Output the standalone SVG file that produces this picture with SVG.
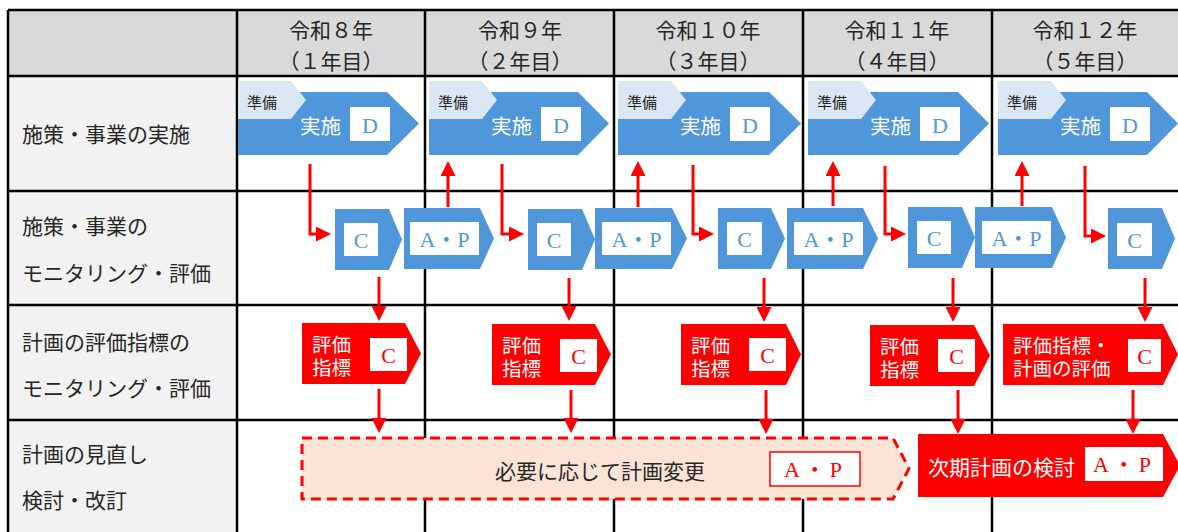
<svg xmlns="http://www.w3.org/2000/svg" width="1178" height="532" viewBox="0 0 1178 532">
<style>
.jp{font-family:"Noto Sans CJK JP","Liberation Sans",sans-serif;font-size:21px;fill:#262626}
.lat{font-family:"Liberation Serif","Noto Sans CJK JP",serif;font-size:22px}
.blue{fill:#5096DA}
.lightblue{fill:#DAE8F5}
.red{fill:#FF0000}
.wbox{fill:#FFFFFF}
.wt{fill:#FFFFFF}
.bt{fill:#5096DA}
.rt{fill:#FF0000}
.two{font-size:19.5px}
.grid{stroke:#000;stroke-width:2.5;fill:none}
.arr{stroke:#FF0000;stroke-width:3;fill:none;stroke-linejoin:miter}
</style>
<defs>
<marker id="ah" markerUnits="userSpaceOnUse" markerWidth="15" markerHeight="15" refX="5" refY="7.5" orient="auto">
<path d="M0,0 L15,7.5 L0,15 Z" fill="#FF0000"/>
</marker>
</defs>
<g id="table">
<rect x="8" y="10" width="1172" height="66" fill="#D9D9D9"/>
<rect x="8" y="76" width="229" height="460" fill="#F2F2F2"/>
<rect x="237" y="76" width="943" height="460" fill="#FFFFFF"/>
<path class="grid" d="M8,10 H1180 M8,76 H1180 M8,191 H1180 M8,305 H1180 M8,420 H1180 M8,10 V536 M237,10 V536 M425,10 V536 M614,10 V536 M803,10 V536 M992,10 V536"/>
</g>
<g id="headers" class="jp" text-anchor="middle" dominant-baseline="central">
<text x="331" y="29">令和８年</text><text x="331" y="60">（１年目）</text>
<text x="520" y="29">令和９年</text><text x="520" y="60">（２年目）</text>
<text x="708" y="29">令和１０年</text><text x="708" y="60">（３年目）</text>
<text x="897" y="29">令和１１年</text><text x="897" y="60">（４年目）</text>
<text x="1085" y="29">令和１２年</text><text x="1085" y="60">（５年目）</text>
</g>
<g id="row-labels" class="jp" dominant-baseline="central">
<text x="22" y="133">施策・事業の実施</text>
<text x="22" y="225">施策・事業の</text>
<text x="22" y="272">モニタリング・評価</text>
<text x="22" y="341">計画の評価指標の</text>
<text x="22" y="387">モニタリング・評価</text>
<text x="22" y="453">計画の見直し</text>
<text x="22" y="499">検討・改訂</text>
</g>
<g id="do-1" transform="translate(238,0)">
<polygon class="blue" points="0,92 149,92 181,123.5 149,155 0,155"/>
<polygon class="lightblue" points="0,81 53,81 68,100 53,119 0,119"/>
<text class="jp" x="9" y="101" style="font-size:15px" dominant-baseline="central">準備</text>
<text class="jp wt" x="62" y="125" style="font-size:20.5px" dominant-baseline="central">実施</text>
<rect class="wbox" x="112" y="107" width="40" height="34"/>
<text class="lat bt" x="132" y="125" text-anchor="middle" dominant-baseline="central">D</text>
</g>
<g id="do-2" transform="translate(429,0)">
<polygon class="blue" points="0,92 149,92 180,123.5 149,155 0,155"/>
<polygon class="lightblue" points="0,81 53,81 68,100 53,119 0,119"/>
<text class="jp" x="9" y="101" style="font-size:15px" dominant-baseline="central">準備</text>
<text class="jp wt" x="62" y="125" style="font-size:20.5px" dominant-baseline="central">実施</text>
<rect class="wbox" x="112" y="107" width="40" height="34"/>
<text class="lat bt" x="132" y="125" text-anchor="middle" dominant-baseline="central">D</text>
</g>
<g id="do-3" transform="translate(618,0)">
<polygon class="blue" points="0,92 151,92 183,123.5 151,155 0,155"/>
<polygon class="lightblue" points="0,81 53,81 68,100 53,119 0,119"/>
<text class="jp" x="9" y="101" style="font-size:15px" dominant-baseline="central">準備</text>
<text class="jp wt" x="62" y="125" style="font-size:20.5px" dominant-baseline="central">実施</text>
<rect class="wbox" x="112" y="107" width="40" height="34"/>
<text class="lat bt" x="132" y="125" text-anchor="middle" dominant-baseline="central">D</text>
</g>
<g id="do-4" transform="translate(808,0)">
<polygon class="blue" points="0,92 150,92 181,123.5 150,155 0,155"/>
<polygon class="lightblue" points="0,81 53,81 68,100 53,119 0,119"/>
<text class="jp" x="9" y="101" style="font-size:15px" dominant-baseline="central">準備</text>
<text class="jp wt" x="62" y="125" style="font-size:20.5px" dominant-baseline="central">実施</text>
<rect class="wbox" x="112" y="107" width="40" height="34"/>
<text class="lat bt" x="132" y="125" text-anchor="middle" dominant-baseline="central">D</text>
</g>
<g id="do-5" transform="translate(998,0)">
<polygon class="blue" points="0,92 149,92 180,123.5 149,155 0,155"/>
<polygon class="lightblue" points="0,81 53,81 68,100 53,119 0,119"/>
<text class="jp" x="9" y="101" style="font-size:15px" dominant-baseline="central">準備</text>
<text class="jp wt" x="62" y="125" style="font-size:20.5px" dominant-baseline="central">実施</text>
<rect class="wbox" x="112" y="107" width="40" height="34"/>
<text class="lat bt" x="132" y="125" text-anchor="middle" dominant-baseline="central">D</text>
</g>
<g id="check-1" transform="translate(335,209)">
<polygon class="blue" points="0,0 54,0 67,30.5 54,61 0,61"/>
<rect class="wbox" x="9" y="14" width="34" height="33"/>
<text class="lat bt" x="26" y="31" text-anchor="middle" dominant-baseline="central">C</text>
</g>
<g id="ap-1" transform="translate(404,208)">
<polygon class="blue" points="0,0 76,0 90,30.5 76,61 0,61"/>
<rect class="wbox" x="6" y="14" width="69" height="33"/>
<text class="lat bt" x="40.5" y="31" text-anchor="middle" dominant-baseline="central">A・P</text>
</g>
<g id="check-2" transform="translate(528,209)">
<polygon class="blue" points="0,0 54,0 67,30.5 54,61 0,61"/>
<rect class="wbox" x="9" y="14" width="34" height="33"/>
<text class="lat bt" x="26" y="31" text-anchor="middle" dominant-baseline="central">C</text>
</g>
<g id="ap-2" transform="translate(595,208)">
<polygon class="blue" points="0,0 77,0 92,30.5 77,61 0,61"/>
<rect class="wbox" x="7" y="14" width="69" height="33"/>
<text class="lat bt" x="41.5" y="31" text-anchor="middle" dominant-baseline="central">A・P</text>
</g>
<g id="check-3" transform="translate(718,208)">
<polygon class="blue" points="0,0 53,0 67,30.5 53,61 0,61"/>
<rect class="wbox" x="9" y="14" width="35" height="33"/>
<text class="lat bt" x="26.5" y="31" text-anchor="middle" dominant-baseline="central">C</text>
</g>
<g id="ap-3" transform="translate(787,208)">
<polygon class="blue" points="0,0 76,0 91,30.5 76,61 0,61"/>
<rect class="wbox" x="7" y="14" width="69" height="33"/>
<text class="lat bt" x="41.5" y="31" text-anchor="middle" dominant-baseline="central">A・P</text>
</g>
<g id="check-4" transform="translate(908,207)">
<polygon class="blue" points="0,0 54,0 67,30.5 54,61 0,61"/>
<rect class="wbox" x="9" y="14" width="34" height="33"/>
<text class="lat bt" x="26" y="31" text-anchor="middle" dominant-baseline="central">C</text>
</g>
<g id="ap-4" transform="translate(975,207)">
<polygon class="blue" points="0,0 77,0 91,30.5 77,61 0,61"/>
<rect class="wbox" x="7" y="14" width="69" height="33"/>
<text class="lat bt" x="41.5" y="31" text-anchor="middle" dominant-baseline="central">A・P</text>
</g>
<g id="check-5" transform="translate(1108,208)">
<polygon class="blue" points="0,0 54,0 67,30.5 54,61 0,61"/>
<rect class="wbox" x="9" y="15" width="35" height="33"/>
<text class="lat bt" x="26.5" y="32" text-anchor="middle" dominant-baseline="central">C</text>
</g>
<g id="indicator-1" transform="translate(302,323)">
<polygon class="red" points="0,0 103,0 119,30.5 103,61 0,61"/>
<text class="jp wt two" dominant-baseline="central"><tspan x="10" y="20">評価</tspan><tspan x="10" y="43">指標</tspan></text>
<rect class="wbox" x="68" y="15" width="37" height="33"/>
<text class="lat rt" x="86.5" y="32" text-anchor="middle" dominant-baseline="central">C</text>
</g>
<g id="indicator-2" transform="translate(492,324)">
<polygon class="red" points="0,0 103,0 119,30.5 103,61 0,61"/>
<text class="jp wt two" dominant-baseline="central"><tspan x="10" y="20">評価</tspan><tspan x="10" y="43">指標</tspan></text>
<rect class="wbox" x="68" y="15" width="37" height="33"/>
<text class="lat rt" x="86.5" y="32" text-anchor="middle" dominant-baseline="central">C</text>
</g>
<g id="indicator-3" transform="translate(681,324)">
<polygon class="red" points="0,0 105,0 120,30.5 105,61 0,61"/>
<text class="jp wt two" dominant-baseline="central"><tspan x="10" y="20">評価</tspan><tspan x="10" y="43">指標</tspan></text>
<rect class="wbox" x="68" y="14" width="37" height="33"/>
<text class="lat rt" x="86.5" y="31" text-anchor="middle" dominant-baseline="central">C</text>
</g>
<g id="indicator-4" transform="translate(870,325)">
<polygon class="red" points="0,0 104,0 120,30.5 104,61 0,61"/>
<text class="jp wt two" dominant-baseline="central"><tspan x="10" y="20">評価</tspan><tspan x="10" y="43">指標</tspan></text>
<rect class="wbox" x="68" y="14" width="37" height="33"/>
<text class="lat rt" x="86.5" y="31" text-anchor="middle" dominant-baseline="central">C</text>
</g>
<g id="indicator-5" transform="translate(1003,324)">
<polygon class="red" points="0,0 160,0 175,30.5 160,61 0,61"/>
<text class="jp wt two" dominant-baseline="central"><tspan x="10" y="20">評価指標・</tspan><tspan x="10" y="43">計画の評価</tspan></text>
<rect class="wbox" x="125" y="15" width="33" height="33"/>
<text class="lat rt" x="141.5" y="32" text-anchor="middle" dominant-baseline="central">C</text>
</g>
<g id="revise-as-needed">
<polygon points="302,438 893,438 909,468.5 893,499 302,499" fill="#FBE4D6" stroke="#FF0000" stroke-width="3" stroke-dasharray="10 6"/>
<text class="jp" x="600" y="470" text-anchor="middle" dominant-baseline="central">必要に応じて計画変更</text>
<rect x="770" y="452" width="90" height="34" fill="#FFFFFF" stroke="#FF0000" stroke-width="1.5"/>
<text class="lat rt" x="815" y="469" text-anchor="middle" dominant-baseline="central" letter-spacing="4">A・P</text>
</g>
<g id="next-plan">
<polygon class="red" points="918,434 1163,434 1180,465.5 1163,497 918,497"/>
<text class="jp wt" x="928" y="466" dominant-baseline="central">次期計画の検討</text>
<rect class="wbox" x="1085" y="447" width="78" height="34"/>
<text class="lat rt" x="1124" y="464" text-anchor="middle" dominant-baseline="central" letter-spacing="4">A・P</text>
</g>
<g id="connectors" class="arr">
<polyline points="310,164 310,234 321,234" marker-end="url(#ah)"/>
<polyline points="502,164 502,234 514,234" marker-end="url(#ah)"/>
<polyline points="693,165 693,234 704,234" marker-end="url(#ah)"/>
<polyline points="885,166 885,234 896,234" marker-end="url(#ah)"/>
<polyline points="1085,166 1085,236 1096,236" marker-end="url(#ah)"/>
<line x1="448" y1="207" x2="448" y2="171" marker-end="url(#ah)"/>
<line x1="638" y1="207" x2="638" y2="171" marker-end="url(#ah)"/>
<line x1="833" y1="206" x2="833" y2="171" marker-end="url(#ah)"/>
<line x1="1022" y1="206" x2="1022" y2="171" marker-end="url(#ah)"/>
<line x1="379" y1="277" x2="379" y2="311" marker-end="url(#ah)"/>
<line x1="569" y1="278" x2="569" y2="311" marker-end="url(#ah)"/>
<line x1="764" y1="278" x2="764" y2="312" marker-end="url(#ah)"/>
<line x1="953" y1="278" x2="953" y2="312" marker-end="url(#ah)"/>
<line x1="1145" y1="278" x2="1145" y2="312" marker-end="url(#ah)"/>
<line x1="379" y1="389" x2="379" y2="423" marker-end="url(#ah)"/>
<line x1="571" y1="390" x2="571" y2="423" marker-end="url(#ah)"/>
<line x1="766" y1="390" x2="766" y2="424" marker-end="url(#ah)"/>
<line x1="958" y1="390" x2="958" y2="424" marker-end="url(#ah)"/>
<line x1="1133" y1="390" x2="1133" y2="424" marker-end="url(#ah)"/>
</g>
</svg>
